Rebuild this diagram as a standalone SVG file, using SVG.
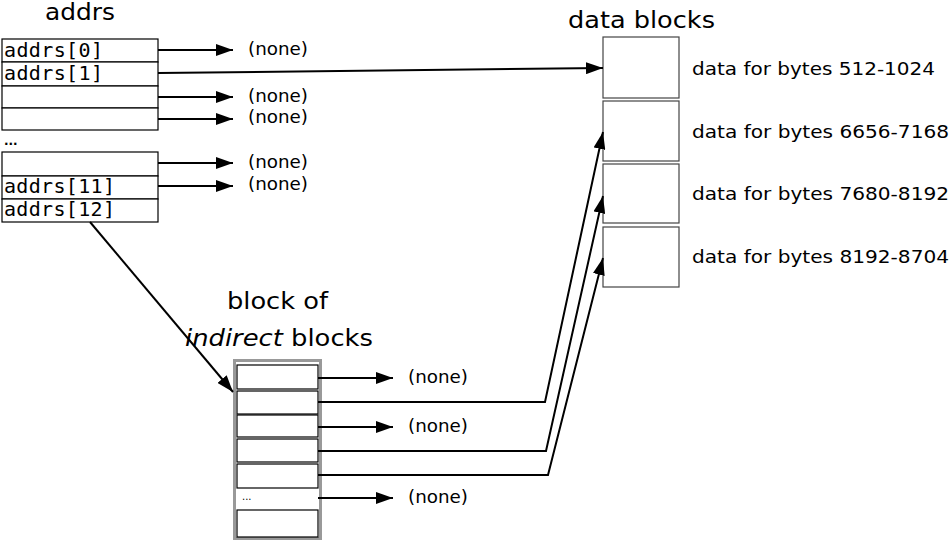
<svg xmlns="http://www.w3.org/2000/svg" width="950" height="541" viewBox="0 0 950 541">
<style>
.cell{fill:#fff;stroke:#000;stroke-width:1.2}
.dblk{fill:#fff;stroke:#444;stroke-width:1.2}
.mono{font-family:"DejaVu Sans Mono","Liberation Mono",monospace;font-size:20px;fill:#000}
.lbl{font-family:"DejaVu Sans","Liberation Sans",sans-serif;font-size:17px;fill:#000}
.ttl{font-family:"DejaVu Sans","Liberation Sans",sans-serif;font-size:23px;fill:#000}
.ln{fill:none;stroke:#000;stroke-width:2}
</style>
<defs>
<marker id="ah" markerUnits="userSpaceOnUse" markerWidth="17" markerHeight="12" refX="17" refY="6" orient="auto">
<path d="M0,0 L17,6 L0,12 Z" fill="#000"/>
</marker>
</defs>

<g id="addrs">
<text class="ttl" x="45" y="20" textLength="70" lengthAdjust="spacingAndGlyphs">addrs</text>
<rect class="cell" x="2" y="39" width="156" height="23"/>
<rect class="cell" x="2" y="62" width="156" height="24"/>
<rect class="cell" x="2" y="86" width="156" height="22"/>
<rect class="cell" x="2" y="108" width="156" height="22"/>
<rect class="cell" x="2" y="152" width="156" height="24"/>
<rect class="cell" x="2" y="176" width="156" height="23"/>
<rect class="cell" x="2" y="199" width="156" height="23"/>
<text class="mono" x="4" y="57" textLength="99">addrs[0]</text>
<text class="mono" x="4" y="80" textLength="99">addrs[1]</text>
<text class="lbl" x="4" y="145" style="font-size:12px;font-weight:bold">...</text>
<text class="mono" x="4" y="193" textLength="111">addrs[11]</text>
<text class="mono" x="4" y="216" textLength="111">addrs[12]</text>
</g>

<g id="addrs-none">
<text class="lbl" x="248" y="55" textLength="60" lengthAdjust="spacingAndGlyphs">(none)</text>
<text class="lbl" x="248" y="102" textLength="60" lengthAdjust="spacingAndGlyphs">(none)</text>
<text class="lbl" x="248" y="123" textLength="60" lengthAdjust="spacingAndGlyphs">(none)</text>
<text class="lbl" x="248" y="168" textLength="60" lengthAdjust="spacingAndGlyphs">(none)</text>
<text class="lbl" x="248" y="190" textLength="60" lengthAdjust="spacingAndGlyphs">(none)</text>
</g>

<g id="data-blocks">
<text class="ttl" x="568" y="28" textLength="147" lengthAdjust="spacingAndGlyphs">data blocks</text>
<rect class="dblk" x="603" y="37" width="76" height="61"/>
<rect class="dblk" x="603" y="101" width="76" height="60"/>
<rect class="dblk" x="603" y="164" width="76" height="59"/>
<rect class="dblk" x="603" y="227" width="76" height="60"/>
<text class="lbl" x="692" y="75" textLength="243" lengthAdjust="spacingAndGlyphs">data for bytes 512-1024</text>
<text class="lbl" x="692" y="138" textLength="257" lengthAdjust="spacingAndGlyphs">data for bytes 6656-7168</text>
<text class="lbl" x="692" y="200" textLength="257" lengthAdjust="spacingAndGlyphs">data for bytes 7680-8192</text>
<text class="lbl" x="692" y="263" textLength="257" lengthAdjust="spacingAndGlyphs">data for bytes 8192-8704</text>
</g>

<g id="indirect">
<text class="ttl" x="227" y="309" textLength="101" lengthAdjust="spacingAndGlyphs">block of</text>
<text class="ttl" x="185" y="346" textLength="188" lengthAdjust="spacingAndGlyphs"><tspan font-style="italic">indirect</tspan> blocks</text>
<rect x="234.5" y="360.5" width="86" height="178" fill="#fff" stroke="#999" stroke-width="3"/>
<rect class="cell" x="237" y="365" width="81" height="24"/>
<rect class="cell" x="237" y="391" width="81" height="23"/>
<rect class="cell" x="237" y="415" width="81" height="22"/>
<rect class="cell" x="237" y="439" width="81" height="23"/>
<rect class="cell" x="237" y="464" width="81" height="24"/>
<rect class="cell" x="237" y="510" width="81" height="27"/>
<text class="lbl" x="242" y="500" style="font-size:10px">...</text>
</g>

<g id="indirect-none">
<text class="lbl" x="408" y="383" textLength="60" lengthAdjust="spacingAndGlyphs">(none)</text>
<text class="lbl" x="408" y="432" textLength="60" lengthAdjust="spacingAndGlyphs">(none)</text>
<text class="lbl" x="408" y="503" textLength="60" lengthAdjust="spacingAndGlyphs">(none)</text>
</g>

<g id="connectors">
<path class="ln" d="M158,50 L233,50" marker-end="url(#ah)"/>
<path class="ln" d="M158,73 L603,68" marker-end="url(#ah)"/>
<path class="ln" d="M158,97 L233,97" marker-end="url(#ah)"/>
<path class="ln" d="M158,119 L233,119" marker-end="url(#ah)"/>
<path class="ln" d="M158,163 L233,163" marker-end="url(#ah)"/>
<path class="ln" d="M158,186 L233,186" marker-end="url(#ah)"/>
<path class="ln" d="M90,222 L233,392" marker-end="url(#ah)"/>
<path class="ln" d="M318,378 L393,378" marker-end="url(#ah)"/>
<path class="ln" d="M318,402 L545,402 L603,132" marker-end="url(#ah)"/>
<path class="ln" d="M318,427 L393,427" marker-end="url(#ah)"/>
<path class="ln" d="M318,451 L546,451 L603,196" marker-end="url(#ah)"/>
<path class="ln" d="M318,475 L548,475 L603,258" marker-end="url(#ah)"/>
<path class="ln" d="M318,498 L393,498" marker-end="url(#ah)"/>
</g>
</svg>
